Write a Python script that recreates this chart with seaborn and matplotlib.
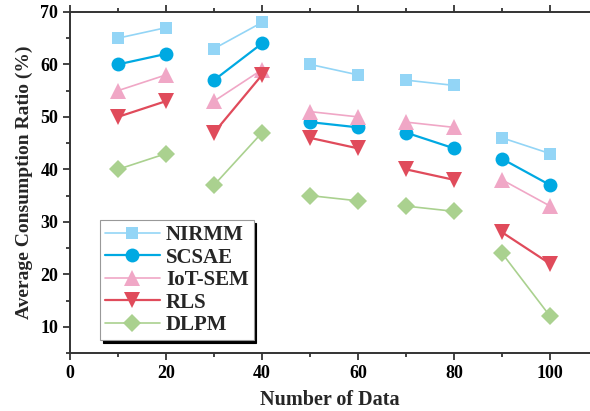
import numpy as np
import pandas as pd
import matplotlib
matplotlib.use("Agg")
import matplotlib.pyplot as plt
from matplotlib.ticker import MultipleLocator
import seaborn as sns

# Data sizes (x) and average consumption ratio (%) per method
data_sizes = [10, 20, 30, 40, 50, 60, 70, 80, 90, 100]
nirmm = [65, 67, 63, 68, 60, 58, 57, 56, 46, 43]
scsae = [60, 62, 57, 64, 49, 48, 47, 44, 42, 37]
iot_sem = [55, 58, 53, 59, 51, 50, 49, 48, 38, 33]
rls = [50, 53, 47, 58, 46, 44, 40, 38, 28, 22]
dlpm = [40, 43, 37, 47, 35, 34, 33, 32, 24, 12]

methods = ["NIRMM", "SCSAE", "IoT-SEM", "RLS", "DLPM"]
series = [nirmm, scsae, iot_sem, rls, dlpm]
colors = ["#93d5f6", "#00a9e2", "#f0a7c6", "#e04b5b", "#aad18f"]
marker_map = {"NIRMM": "s", "SCSAE": "o", "IoT-SEM": "^", "RLS": "v", "DLPM": "D"}
marker_sizes = {"s": 9, "o": 10, "^": 11, "v": 11, "D": 9}
line_widths = {"NIRMM": 1.2, "SCSAE": 1.6, "IoT-SEM": 1.2, "RLS": 1.6, "DLPM": 1.2}

rows = []
for m, vals in zip(methods, series):
    for i, (x, y) in enumerate(zip(data_sizes, vals)):
        rows.append({"size": x, "ratio": y, "method": m, "pair": i // 2})
df = pd.DataFrame(rows)

sns.set_theme(style="ticks")
plt.rcParams["font.family"] = ["Liberation Serif", "DejaVu Serif"]
plt.rcParams["font.weight"] = "bold"

fig = plt.figure(figsize=(5.9, 4.11), dpi=100)
ax = fig.add_axes([0.1186, 0.141, 0.8814, 0.830])

sns.lineplot(
    data=df, x="size", y="ratio", hue="method", style="method",
    units="pair", estimator=None, hue_order=methods, style_order=methods,
    palette=dict(zip(methods, colors)), markers=marker_map, dashes=False,
    markersize=9, markeredgewidth=0, linewidth=1.3, ax=ax,
)

color_to_method = dict(zip(colors, methods))
for ln in ax.lines:
    mk = ln.get_marker()
    if mk in marker_sizes:
        ln.set_markersize(marker_sizes[mk])
    inv = {v: k for k, v in marker_map.items()}
    if mk in inv:
        ln.set_linewidth(line_widths[inv[mk]])

ax.set_xlim(0, 108.3)
ax.set_ylim(5, 70)
ax.xaxis.set_major_locator(MultipleLocator(20))
ax.xaxis.set_minor_locator(MultipleLocator(10))
ax.yaxis.set_major_locator(MultipleLocator(10))
ax.yaxis.set_minor_locator(MultipleLocator(5))
ax.tick_params(which="both", direction="out", width=1.2, colors="#222222",
               labelsize=13, labelcolor="black")
ax.tick_params(which="major", length=5)
ax.tick_params(which="minor", length=3)
ax.tick_params(which="both", top=True, labeltop=False)
for lbl in ax.get_xticklabels() + ax.get_yticklabels():
    lbl.set_fontweight("bold")

for side in ["left", "bottom", "top"]:
    ax.spines[side].set_linewidth(1.4)
    ax.spines[side].set_color("#333333")
ax.spines["right"].set_visible(False)

ax.set_xlabel("Number of Data", fontsize=14.5, fontweight="bold", labelpad=6)
ax.set_ylabel("Average Consumption Ratio (%)", fontsize=14, fontweight="bold", labelpad=5)

leg = ax.legend(
    loc="upper left", bbox_to_anchor=(0.058, 0.39), borderaxespad=0,
    fancybox=False, shadow={"color": "black", "alpha": 1, "shade": 0},
    frameon=True, edgecolor="#999999", framealpha=1,
    prop={"family": "Liberation Serif", "weight": "bold", "size": 15},
    handlelength=2.6, labelspacing=0.12, handletextpad=0.3, borderpad=0.25,
)
leg.get_frame().set_linewidth(0.8)
for h in leg.legend_handles:
    mk = h.get_marker()
    h.set_markersize(marker_sizes.get(mk, 9))

fig.savefig("out.png", dpi=100)
